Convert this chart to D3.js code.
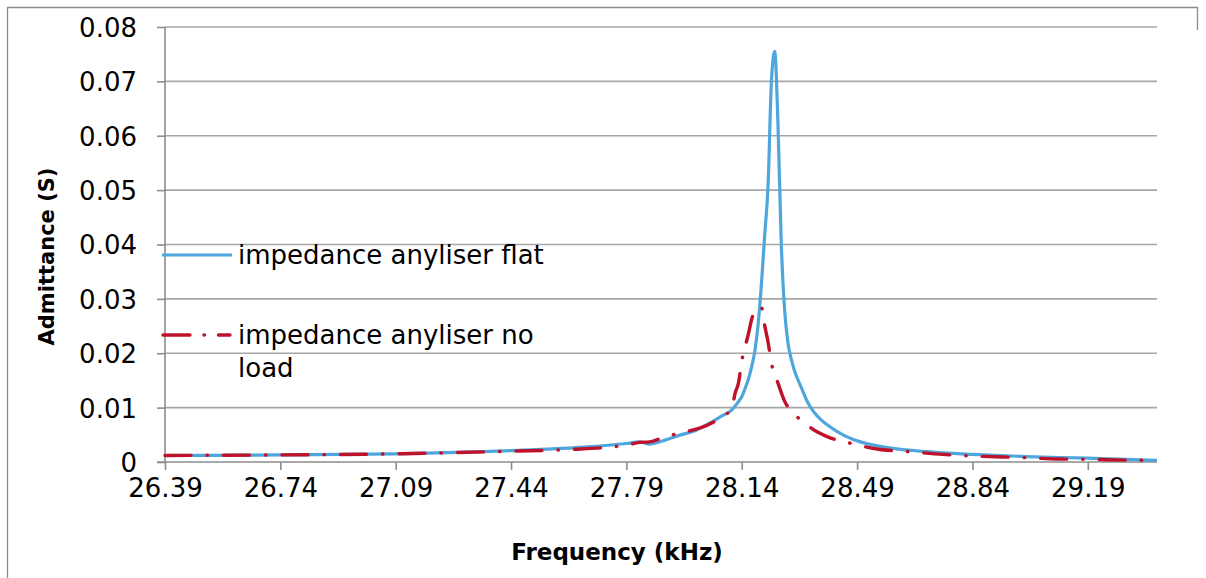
<!DOCTYPE html>
<html>
<head>
<meta charset="utf-8">
<script src="https://cdn.jsdelivr.net/npm/d3@7"></script>
<style>
  html, body { margin: 0; padding: 0; background: #fff; }
  svg { display: block; }
</style>
</head>
<body>
<svg id="chart" width="1206" height="578"></svg>
<script>
// ---- Data ----
const xTickLabels = ["26.39", "26.74", "27.09", "27.44", "27.79", "28.14", "28.49", "28.84", "29.19"];
const yTickLabels = ["0", "0.01", "0.02", "0.03", "0.04", "0.05", "0.06", "0.07", "0.08"];
const freqRange = [26.39, 29.40];

const seriesNames = ["impedance anyliser flat", "impedance anyliser no load"];

const flatFreq = [26.39, 26.74, 27.09, 27.44, 27.65, 27.79, 27.83, 27.86, 27.89, 27.95, 28.00, 28.05, 28.08,
  28.11, 28.12, 28.13, 28.14, 28.15, 28.16, 28.17, 28.18, 28.19, 28.20, 28.21, 28.22, 28.23, 28.24, 28.25,
  28.26, 28.27, 28.28, 28.29, 28.30, 28.32, 28.34, 28.36, 28.38, 28.40, 28.45, 28.50, 28.60, 28.70, 28.84,
  29.00, 29.19, 29.40];
const flatY = [0.0012, 0.0013, 0.0015, 0.0021, 0.0027, 0.0034, 0.0037, 0.0033, 0.0037, 0.0049, 0.0058, 0.0074, 0.0085,
  0.0096, 0.0103, 0.0111, 0.0120, 0.0135, 0.0152, 0.0175, 0.0205, 0.0255, 0.0330, 0.0420, 0.0510, 0.0700, 0.0755, 0.0620,
  0.0400, 0.0280, 0.0220, 0.0190, 0.0168, 0.0138, 0.0110, 0.0091, 0.0078, 0.0068, 0.0049, 0.0037, 0.0025, 0.0019, 0.0014,
  0.0010, 0.0007, 0.0003];

const noLoadFreq = [26.39, 26.74, 27.09, 27.44, 27.62, 27.79, 27.83, 27.86, 27.91, 27.96, 28.04, 28.08, 28.11,
  28.12, 28.13, 28.14, 28.16, 28.17, 28.19, 28.20, 28.21, 28.22, 28.23, 28.25, 28.27, 28.30, 28.33, 28.37,
  28.41, 28.46, 28.50, 28.55, 28.65, 28.75, 28.84, 29.00, 29.10, 29.19, 29.30, 29.40];
const noLoadY = [0.0012, 0.0013, 0.0015, 0.0020, 0.0023, 0.0031, 0.0036, 0.0037, 0.0047, 0.0054, 0.0069, 0.0083, 0.0099,
  0.0127, 0.0145, 0.0185, 0.0235, 0.0262, 0.0285, 0.0284, 0.0250, 0.0220, 0.0182, 0.0145, 0.0112, 0.0088, 0.0072, 0.0055,
  0.0044, 0.0036, 0.0030, 0.0024, 0.0019, 0.0014, 0.0011, 0.0008, 0.00055, 0.0005, 0.00035, 0.0003];

// ---- Layout ----
const svg = d3.select("#chart");
const plotLeft = 165, plotRight = 1157, plotTop = 27, plotBottom = 462;
const x = d3.scaleLinear().domain(freqRange).range([plotLeft, plotRight]);
const y = d3.scaleLinear().domain([0, 0.08]).range([plotBottom, plotTop]);

const gridColor = "#A6A6A6";
const axisColor = "#8C8C8C";
const blue = "#4EA6DC";
const red = "#C0112B";
const font = "'DejaVu Sans', Verdana, sans-serif";

// outer chart border
svg.append("path")
  .attr("d", "M7.5,600 V7.5 H1197.5 V30")
  .attr("fill", "none").attr("stroke", "#8C8C8C").attr("stroke-width", 1.3);

// gridlines
svg.append("g").selectAll("line")
  .data(yTickLabels.map(Number).filter(v => v > 0))
  .join("line")
  .attr("x1", plotLeft).attr("x2", plotRight)
  .attr("y1", d => y(d)).attr("y2", d => y(d))
  .attr("stroke", gridColor).attr("stroke-width", 1.6);

// Y axis
const yAxis = d3.axisLeft(y)
  .tickValues(yTickLabels.map(Number))
  .tickFormat((d, i) => yTickLabels[i])
  .tickSize(8).tickPadding(20);
const gy = svg.append("g").attr("transform", `translate(${plotLeft},0)`).call(yAxis);
gy.select(".domain").attr("stroke", axisColor).attr("stroke-width", 1.6).attr("d", `M0,${plotTop}V${plotBottom}`);
gy.selectAll(".tick line").attr("stroke", axisColor).attr("stroke-width", 1.6);
gy.selectAll(".tick text").attr("font-family", font).attr("font-size", 26).attr("fill", "#000").attr("dy", "0.36em");

// X axis
const xAxis = d3.axisBottom(x)
  .tickValues(xTickLabels.map(Number))
  .tickFormat((d, i) => xTickLabels[i])
  .tickSize(8).tickPadding(9);
const gx = svg.append("g").attr("transform", `translate(0,${plotBottom})`).call(xAxis);
gx.select(".domain").attr("stroke", axisColor).attr("stroke-width", 1.6).attr("d", `M${plotLeft - 8},0H${plotRight}`);
gx.selectAll(".tick line").attr("stroke", axisColor).attr("stroke-width", 1.6);
gx.selectAll(".tick text").attr("font-family", font).attr("font-size", 26).attr("fill", "#000");

// Axis titles
svg.append("text")
  .attr("transform", `translate(54,${(plotTop + plotBottom) / 2 + 12}) rotate(-90)`)
  .attr("text-anchor", "middle")
  .attr("font-family", font).attr("font-weight", "bold").attr("font-size", 21)
  .text("Admittance (S)");
svg.append("text")
  .attr("x", 617).attr("y", 560)
  .attr("text-anchor", "middle")
  .attr("font-family", font).attr("font-weight", "bold").attr("font-size", 23)
  .text("Frequency (kHz)");

// Lines
const line = d3.line().x(d => x(d[0])).y(d => y(d[1])).curve(d3.curveMonotoneX);
const flatData = flatFreq.map((f, i) => [f, flatY[i]]);
const noLoadData = noLoadFreq.map((f, i) => [f, noLoadY[i]]);

svg.append("path").datum(flatData)
  .attr("d", line).attr("fill", "none")
  .attr("stroke", blue).attr("stroke-width", 3.2).attr("stroke-linejoin", "round");

svg.append("path").datum(noLoadData)
  .attr("d", line).attr("fill", "none")
  .attr("stroke", red).attr("stroke-width", 3.4)
  .attr("stroke-linecap", "round").attr("stroke-linejoin", "round")
  .attr("stroke-dasharray", "26,16,0.5,16");

// Legend
const lg = svg.append("g");
lg.append("line").attr("x1", 162).attr("x2", 232).attr("y1", 255).attr("y2", 255)
  .attr("stroke", blue).attr("stroke-width", 3.2);
lg.append("text").attr("x", 238).attr("y", 264)
  .attr("font-family", font).attr("font-size", 26).text(seriesNames[0]);
lg.append("line").attr("x1", 163).attr("x2", 230).attr("y1", 335).attr("y2", 335)
  .attr("stroke", red).attr("stroke-width", 3.4).attr("stroke-linecap", "round")
  .attr("stroke-dasharray", "27,14,0.5,14");
const t2 = lg.append("text").attr("font-family", font).attr("font-size", 26);
t2.append("tspan").attr("x", 238).attr("y", 344).text("impedance anyliser no");
t2.append("tspan").attr("x", 238).attr("y", 377).text("load");
</script>
</body>
</html>
